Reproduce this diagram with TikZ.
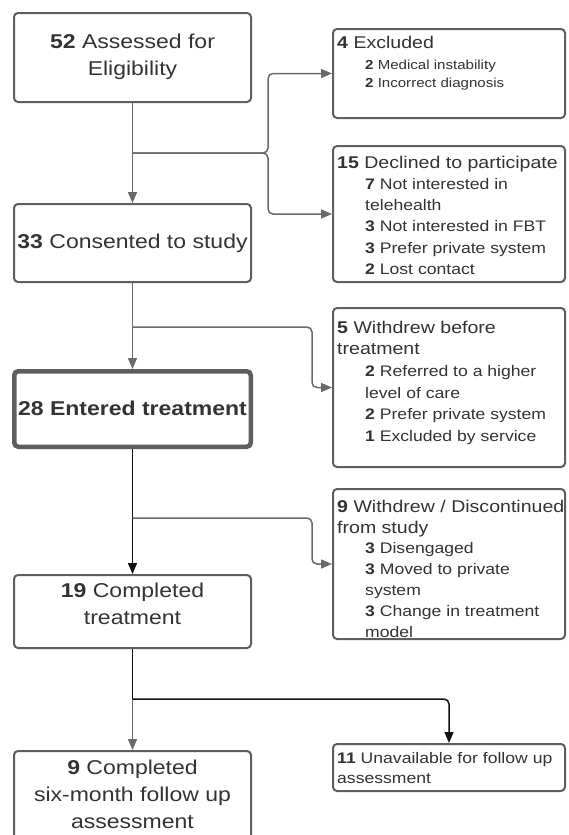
\documentclass[tikz,border=0pt]{standalone}
\usepackage{fontspec}
\setmainfont{Liberation Sans}[FakeStretch=1.15]
\usetikzlibrary{arrows.meta}
\definecolor{bordercol}{HTML}{5E5E5E}
\definecolor{linecol}{HTML}{6A6A6A}
\definecolor{darkline}{HTML}{111111}
\definecolor{txtcol}{HTML}{333333}
\newcommand{\hdfont}{\fontsize{17}{21.3}\selectfont}
\newcommand{\smfont}{\fontsize{13.1}{18}\selectfont}
\newcommand{\ind}{\hspace*{28pt}}
\begin{document}
\begin{tikzpicture}[x=1pt,y=-1pt,
  lbox/.style={draw=bordercol,line width=2pt,rounded corners=4pt,inner sep=0pt,fill=white,minimum width=237pt},
  thickbox/.style={lbox,line width=4.5pt,minimum width=236.5pt},
  rbox/.style={draw=bordercol,line width=2pt,rounded corners=4pt,inner sep=0pt,fill=white,minimum width=232pt},
  ltext/.style={font=\fontsize{20}{27}\selectfont,text=txtcol,align=center,inner sep=0pt},
  rtext/.style={text=txtcol,align=left,inner sep=0pt,anchor=north west},
  conn/.style={draw=linecol,line width=1.5pt},
  darkconn/.style={draw=darkline,line width=1.5pt},
  arr/.style={-{Triangle[width=9pt,length=11pt]}},
  elbow/.style={rounded corners=5pt}]
\path[use as bounding box,fill=white] (0,0) rectangle (568,835);
\clip (0,0) rectangle (568,835);

% left boxes
\node[lbox,minimum height=89pt] (b1) at (132.5,57.5) {};
\node[lbox,minimum height=78pt] (b2) at (132.5,243) {};
\node[thickbox,minimum height=75.5pt] (b3) at (132.5,409) {};
\node[lbox,minimum height=73pt] (b4) at (132.5,611.5) {};
\node[lbox,minimum height=100pt] (b5) at (132.5,801) {};

\node[ltext] (t1) at (132.5,56.5) {\textbf{52} Assessed for\\Eligibility};
\node[ltext] (t2) at (132.5,243) {\textbf{33} Consented to study};
\node[ltext] (t3) at (132.5,408) {\textbf{28 Entered treatment}};
\node[ltext] (t4) at (132.5,603.5) {\textbf{19} Completed\\treatment};
\node[ltext] (t5) at (132.5,794.5) {\textbf{9} Completed\\six-month follow up\\assessment};

% right boxes
\node[rbox,minimum height=89pt] (ex) at (449,73.5) {};
\node[rbox,minimum height=136pt] (dec) at (449,214) {};
\node[rbox,minimum height=159pt] (wb) at (449,387.5) {};
\node[rbox,minimum height=150pt] (wd) at (449,564) {};
\node[rbox,minimum height=47pt] (un) at (449,767.5) {};

\node[rtext,font=\smfont] (tex) at (337,35.7)
  {{\hdfont\textbf{4} Excluded}\\[3pt]
   \ind\textbf{2} Medical instability\\
   \ind\textbf{2} Incorrect diagnosis};
\node[rtext,font=\fontsize{15.3}{21.2}\selectfont] (tdec) at (337,155.7)
  {{\hdfont\textbf{15} Declined to participate}\\
   \ind\textbf{7} Not interested in\\
   \ind telehealth\\
   \ind\textbf{3} Not interested in FBT\\
   \ind\textbf{3} Prefer private system\\
   \ind\textbf{2} Lost contact};
\node[rtext,font=\fontsize{15.3}{21.6}\selectfont] (twb) at (337,320.7)
  {{\hdfont\textbf{5} Withdrew before}\\
   {\hdfont treatment}\\
   \ind\textbf{2} Referred to a higher\\
   \ind level of care\\
   \ind\textbf{2} Prefer private system\\
   \ind\textbf{1} Excluded by service};
\node[rtext,font=\fontsize{15.3}{20.8}\selectfont] (twd) at (337,499.7)
  {{\hdfont\textbf{9} Withdrew / Discontinued}\\
   {\hdfont from study}\\
   \ind\textbf{3} Disengaged\\
   \ind\textbf{3} Moved to private\\
   \ind system\\
   \ind\textbf{3} Change in treatment\\
   \ind model};
\node[rtext,font=\fontsize{15.3}{20}\selectfont] (tun) at (337,752)
  {\textbf{11} Unavailable for follow up\\assessment};

% junction points
\coordinate (j1) at (132.5,153);
\coordinate (k1) at (268,153);
\coordinate (j2) at (132.5,327);
\coordinate (k2) at (312,327);
\coordinate (j3) at (132.5,518);
\coordinate (k3) at (312,518);
\coordinate (j4) at (132.5,699);

% connectors
\draw[conn,arr] (b1.south) -- (b2.north);
\draw[conn,arr,elbow] (j1) -- (k1) |- (ex.west);
\draw[conn,arr,elbow] (j1) -- (k1) |- (dec.west);

\draw[conn,arr] (b2.south) -- (b3.north);
\draw[conn,arr,elbow] (j2) -- (k2) |- (wb.west);

\draw[darkconn,arr] (b3.south) -- (b4.north);
\draw[conn,arr,elbow] (j3) -- (k3) |- (wd.west);

\draw[darkconn] (b4.south) -- (j4);
\draw[conn,arr] (j4) -- (b5.north);
\draw[darkconn,arr,elbow] (j4) -| (un.north);
\end{tikzpicture}
\end{document}
